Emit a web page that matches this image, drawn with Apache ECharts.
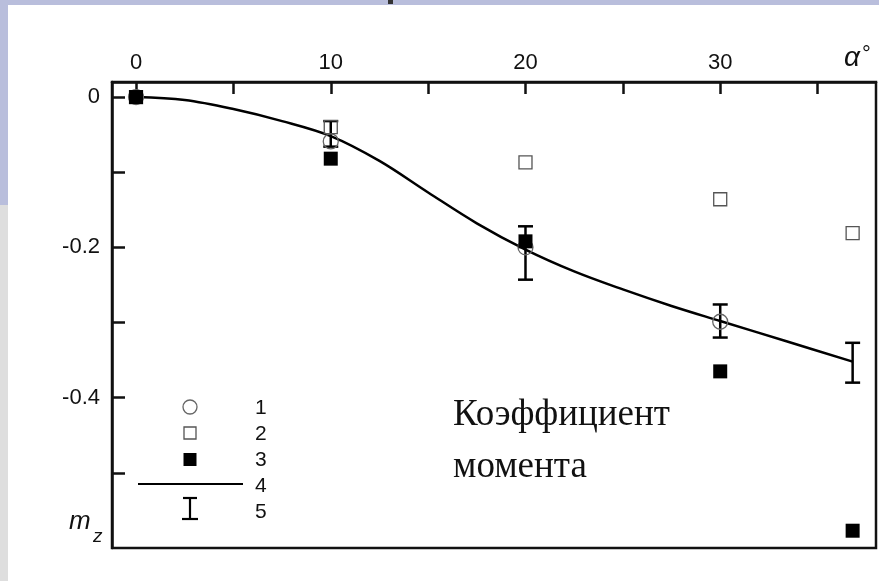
<!DOCTYPE html>
<html>
<head>
<meta charset="utf-8">
<script src="https://cdn.jsdelivr.net/npm/echarts@6/dist/echarts.min.js"></script>
<style>
html,body{margin:0;padding:0;background:#fff;}
#c{width:879px;height:581px;}
</style>
</head>
<body>
<div id="c"></div>
<script>
// ---- data ----
const xTickValues = [0, 5, 10, 15, 20, 25, 30, 35];
const xLabelValues = [0, 10, 20, 30];
const yTickValues = [-0.5, -0.4, -0.3, -0.2, -0.1, 0];
const yLabelValues = [-0.4, -0.2, 0];

// 1: open circles
const series1 = [[0, 0], [10, -0.059], [20, -0.2], [30, -0.299]];
// 2: open squares
const series2 = [[0, 0], [10, -0.04], [20, -0.087], [30, -0.136], [36.8, -0.181]];
// 3: filled squares
const series3 = [[0, 0], [10, -0.082], [20, -0.192], [30, -0.365], [36.8, -0.577]];
// 4: calculated curve
const series4 = [[0, 0], [2.5, -0.004], [5, -0.016], [7.5, -0.032], [10, -0.052], [12.5, -0.085],
  [15, -0.127], [17.5, -0.168], [20, -0.203], [22.5, -0.232], [25, -0.256], [27.5, -0.278],
  [30, -0.298], [33.4, -0.325], [36.8, -0.352]];
// 5: error bars [x, low, high]
const series5 = [[10, -0.066, -0.032], [20, -0.243, -0.172], [30, -0.32, -0.276], [36.8, -0.38, -0.327]];

const legendLabels = ['1', '2', '3', '4', '5'];
const textLines = ['Коэффициент', 'момента'];

const chart = echarts.init(document.getElementById('c'), null, {renderer: 'canvas'});
const axisColor = '#111';
const sans = 'Liberation Sans, Arial, sans-serif';

const option = {
  animation: false,
  backgroundColor: '#ffffff',
  grid: {
    left: 112, top: 82, width: 764, height: 466,
    show: true, borderColor: axisColor, borderWidth: 2.5, backgroundColor: 'transparent'
  },
  xAxis: {
    type: 'value', position: 'top', min: -1.234, max: 38,
    axisLine: {show: true, onZero: false, lineStyle: {color: axisColor, width: 2.5}},
    axisTick: {show: true, inside: true, length: 12, lineStyle: {color: axisColor, width: 2.5}, customValues: xTickValues},
    axisLabel: {show: true, margin: 8, fontSize: 22, color: '#111', fontFamily: sans, customValues: xLabelValues,
      formatter: v => String(v)},
    splitLine: {show: false}
  },
  yAxis: {
    type: 'value', min: -0.6, max: 0.02,
    axisLine: {show: true, onZero: false, lineStyle: {color: axisColor, width: 2.5}},
    axisTick: {show: true, inside: true, length: 13, lineStyle: {color: axisColor, width: 2.5}, customValues: yTickValues},
    axisLabel: {show: true, margin: 12, fontSize: 22, color: '#111', fontFamily: sans, customValues: yLabelValues,
      formatter: v => (v === 0 ? '0' : String(v))},
    splitLine: {show: false}
  },
  series: [
    {
      name: '4', type: 'line', data: series4, smooth: 0.35, symbol: 'none', z: 2,
      lineStyle: {color: '#000', width: 2.5}
    },
    {
      name: '5', type: 'custom', z: 3, data: series5,
      renderItem: function (params, api) {
        const x = api.value(0);
        const lo = api.coord([x, api.value(1)]);
        const hi = api.coord([x, api.value(2)]);
        const hw = 7.5;
        const st = {stroke: '#000', lineWidth: 2.5};
        return {
          type: 'group',
          children: [
            {type: 'line', shape: {x1: lo[0], y1: lo[1], x2: hi[0], y2: hi[1]}, style: st},
            {type: 'line', shape: {x1: lo[0] - hw, y1: lo[1], x2: lo[0] + hw, y2: lo[1]}, style: st},
            {type: 'line', shape: {x1: hi[0] - hw, y1: hi[1], x2: hi[0] + hw, y2: hi[1]}, style: st}
          ]
        };
      }
    },
    {
      name: '1', type: 'scatter', data: series1, symbol: 'circle', symbolSize: 15, z: 4,
      itemStyle: {color: 'rgba(0,0,0,0)', borderColor: '#666', borderWidth: 1.3, opacity: 1}
    },
    {
      name: '2', type: 'scatter', data: series2, symbol: 'rect', symbolSize: 13, z: 5,
      itemStyle: {color: 'rgba(0,0,0,0)', borderColor: '#555', borderWidth: 1.3, opacity: 1}
    },
    {
      name: '3', type: 'scatter', data: series3, symbol: 'rect', symbolSize: 14, z: 6,
      itemStyle: {color: '#000', opacity: 1}
    }
  ],
  graphic: [
    // slide background strips
    {type: 'rect', shape: {x: 0, y: 0, width: 879, height: 5}, style: {fill: '#b9bedc'}, z: -10, silent: true},
    {type: 'rect', shape: {x: 0, y: 0, width: 8, height: 205}, style: {fill: '#b9bedc'}, z: -10, silent: true},
    {type: 'rect', shape: {x: 0, y: 205, width: 8, height: 376}, style: {fill: '#dedede'}, z: -10, silent: true},
    {type: 'rect', shape: {x: 388, y: 0, width: 5, height: 4}, style: {fill: '#333'}, z: -9, silent: true},
    // axis names
    {type: 'text', x: 69, y: 522, style: {text: 'm', font: 'italic 26px ' + sans, fill: '#111', verticalAlign: 'middle'}},
    {type: 'text', x: 93, y: 537, style: {text: 'z', font: 'italic 19px ' + sans, fill: '#111', verticalAlign: 'middle'}},
    {type: 'text', x: 844, y: 58, style: {text: 'α', font: 'italic 28px ' + sans, fill: '#111', verticalAlign: 'middle'}},
    {type: 'text', x: 862, y: 44, style: {text: '°', font: '22px ' + sans, fill: '#111', verticalAlign: 'top'}},
    // legend
    {type: 'circle', shape: {cx: 190, cy: 407, r: 7}, style: {fill: 'none', stroke: '#666', lineWidth: 1.3}},
    {type: 'rect', shape: {x: 184, y: 427, width: 12, height: 12}, style: {fill: 'none', stroke: '#555', lineWidth: 1.3}},
    {type: 'rect', shape: {x: 183.5, y: 453, width: 13, height: 13}, style: {fill: '#000'}},
    {type: 'line', shape: {x1: 138, y1: 484, x2: 243, y2: 484}, style: {stroke: '#000', lineWidth: 2.2}},
    {type: 'line', shape: {x1: 190, y1: 498, x2: 190, y2: 519}, style: {stroke: '#000', lineWidth: 2.2}},
    {type: 'line', shape: {x1: 183, y1: 498, x2: 197, y2: 498}, style: {stroke: '#000', lineWidth: 2.2}},
    {type: 'line', shape: {x1: 182, y1: 519, x2: 198, y2: 519}, style: {stroke: '#000', lineWidth: 2.2}},
    {type: 'text', x: 255, y: 408, style: {text: legendLabels[0], font: '21px ' + sans, fill: '#111', verticalAlign: 'middle'}},
    {type: 'text', x: 255, y: 434, style: {text: legendLabels[1], font: '21px ' + sans, fill: '#111', verticalAlign: 'middle'}},
    {type: 'text', x: 255, y: 460, style: {text: legendLabels[2], font: '21px ' + sans, fill: '#111', verticalAlign: 'middle'}},
    {type: 'text', x: 255, y: 486, style: {text: legendLabels[3], font: '21px ' + sans, fill: '#111', verticalAlign: 'middle'}},
    {type: 'text', x: 255, y: 512, style: {text: legendLabels[4], font: '21px ' + sans, fill: '#111', verticalAlign: 'middle'}},
    // caption
    {type: 'text', x: 453, y: 415, style: {text: textLines[0], font: '37px "Liberation Serif", "Times New Roman", serif', fill: '#111', verticalAlign: 'middle'}},
    {type: 'text', x: 453, y: 467, style: {text: textLines[1], font: '37px "Liberation Serif", "Times New Roman", serif', fill: '#111', verticalAlign: 'middle'}}
  ]
};
chart.setOption(option);
</script>
</body>
</html>
